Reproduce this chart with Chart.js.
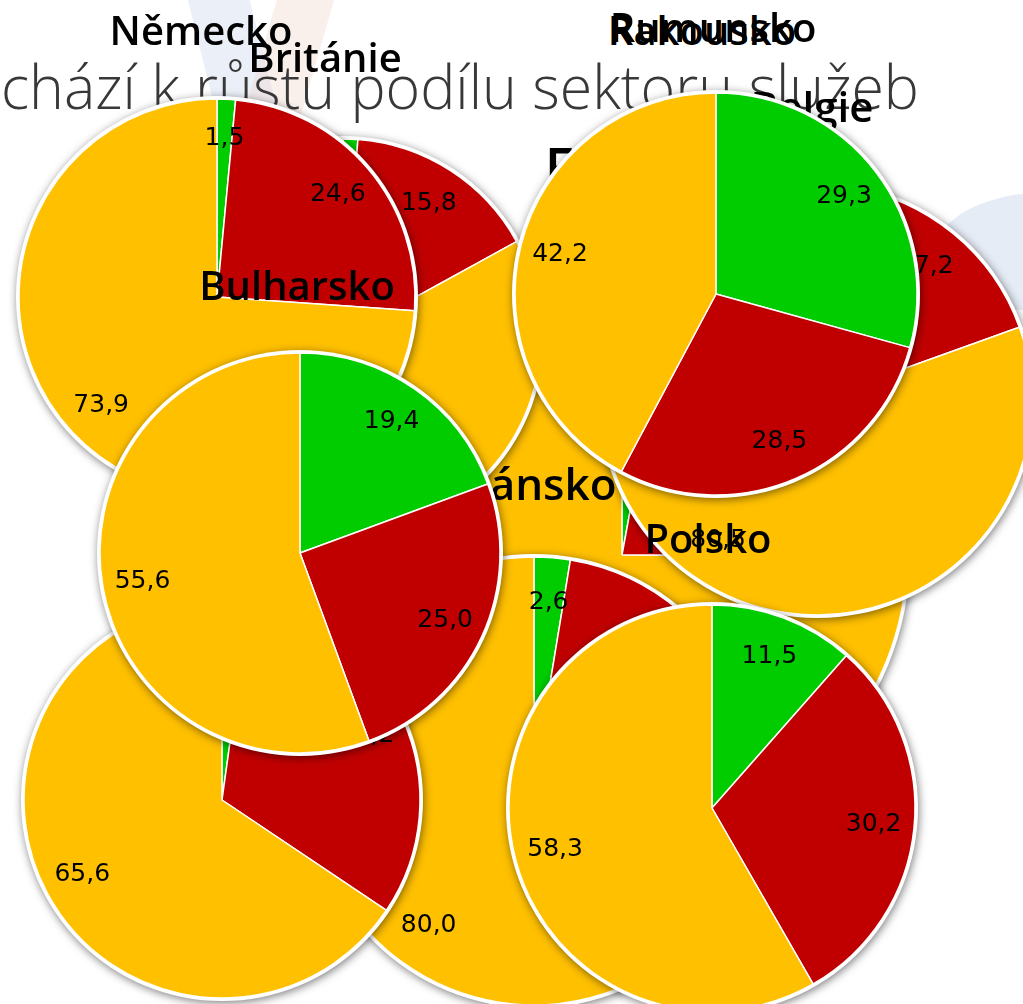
<!DOCTYPE html>
<html lang="cs">
<head>
<meta charset="utf-8">
<title>Podíl sektorů na zaměstnanosti</title>
<script src="https://cdn.jsdelivr.net/npm/chart.js@4.4.1/dist/chart.umd.min.js"></script>
<style>
    html, body { margin: 0; padding: 0; background: #fff; }
    body { position: relative; width: 1023px; height: 1004px; overflow: hidden; }
    #podnadpis {
        position: absolute; left: 1px; top: 56px;
        font: 300 60px "Open Sans", "Lato", sans-serif; line-height: 1;
        color: #383838; white-space: nowrap; transform-origin: 0 0;
    }
    .nazev {
        position: absolute; font: 600 40px "Open Sans", sans-serif; line-height: 1;
        color: #000; white-space: nowrap; transform: translate(-50%, -50%);
    }
    .ozdoba { position: absolute; }
    #platno canvas { position: absolute; left: 0; top: 0; }
</style>
</head>
<body>
<div class="ozdoba" style="left:200px;top:-40px;width:60px;height:170px;background:rgba(205,215,238,0.4);transform:rotate(-14deg);"></div>
<div class="ozdoba" style="left:265px;top:-40px;width:55px;height:170px;background:rgba(240,215,205,0.4);transform:rotate(16deg);"></div>
<div class="ozdoba" style="left:935px;top:192px;width:230px;height:120px;border-radius:50%;background:rgba(220,228,242,0.7);"></div>
<div class="ozdoba" style="left:985px;top:330px;width:90px;height:150px;border-radius:50%;background:rgba(250,228,220,0.5);"></div>
<div id="podnadpis">chází k růstu podílu sektoru služeb</div>
<div class="nazev" style="left:702px;top:30px;">Rakousko</div>
<div id="platno"></div>
<script>
// podíl zaměstnanosti podle sektorů (%), pořadí = pořadí vrstev odspodu
const zeme = ['Francie', 'Belgie', 'Británie', 'Německo', 'Rumunsko', 'Dánsko', 'Maďarsko', 'Polsko', 'Bulharsko'];
const zemedelstvi = [2.9, 2.3, 1.2, 1.5, 29.3, 2.6, 2.2, 11.5, 19.4];
const prumysl = [22.2, 17.2, 15.8, 24.6, 28.5, 17.4, 32.2, 30.2, 25.0];
const sluzby = [74.9, 80.5, 83.0, 73.9, 42.2, 80.0, 65.6, 58.3, 55.6];
const sektory = ['zemědělství', 'průmysl', 'služby'];

const barvy = ['#00cc00', '#c00000', '#ffc000'];
const SIRKA = 1023;
const VYSKA = 1004;

// rozmístění grafů na snímku: střed, poloměr, nadpis
const poloha = [
    { x: 622, y: 555, r: 285, tx: 640, ty: 172, pismo: 54 },
    { x: 817, y: 400, r: 215, tx: 812, ty: 110, pismo: 42 },
    { x: 343, y: 337, r: 198, tx: 325, ty: 61, pismo: 40 },
    { x: 217, y: 297, r: 198, tx: 201, ty: 34, pismo: 40 },
    { x: 716, y: 294, r: 201, tx: 713, ty: 31, pismo: 40 },
    { x: 534, y: 781, r: 224, tx: 537, ty: 487, pismo: 44 },
    { x: 222, y: 800, r: 198, tx: 215, ty: 540, pismo: 40 },
    { x: 712, y: 808, r: 203, tx: 708, ty: 542, pismo: 40 },
    { x: 300, y: 553, r: 200, tx: 297, ty: 289, pismo: 40 }
];

const stin = {
    id: 'stin',
    beforeDatasetsDraw(chart) {
        const arc = chart.getDatasetMeta(0).data[0];
        const ctx = chart.ctx;
        ctx.save();
        ctx.beginPath();
        ctx.arc(arc.x, arc.y, arc.outerRadius + 3, 0, Math.PI * 2);
        ctx.fillStyle = '#fff';
        ctx.shadowColor = 'rgba(0,0,0,0.5)';
        ctx.shadowBlur = 8;
        ctx.shadowOffsetX = 1;
        ctx.shadowOffsetY = 2;
        ctx.fill();
        ctx.restore();
    }
};

const hodnoty = {
    id: 'hodnoty',
    afterDatasetsDraw(chart) {
        const ctx = chart.ctx;
        const data = chart.data.datasets[0].data;
        ctx.save();
        ctx.font = '25px "DejaVu Sans", sans-serif';
        ctx.fillStyle = '#000';
        ctx.textAlign = 'center';
        ctx.textBaseline = 'middle';
        chart.getDatasetMeta(0).data.forEach((arc, i) => {
            const stred = (arc.startAngle + arc.endAngle) / 2;
            const x = arc.x + Math.cos(stred) * arc.outerRadius * 0.8;
            const y = arc.y + Math.sin(stred) * arc.outerRadius * 0.8;
            ctx.fillText(data[i].toFixed(1).replace('.', ','), x, y);
        });
        ctx.restore();
    }
};

const nadpis = {
    id: 'nadpis',
    afterDraw(chart, args, opts) {
        const ctx = chart.ctx;
        ctx.save();
        ctx.font = '600 ' + opts.size + 'px "Open Sans", sans-serif';
        ctx.fillStyle = '#000';
        ctx.textAlign = 'center';
        ctx.textBaseline = 'middle';
        ctx.fillText(opts.text, opts.x, opts.y);
        ctx.restore();
    }
};

const platno = document.getElementById('platno');

zeme.forEach((nazev, i) => {
    const p = poloha[i];
    const canvas = document.createElement('canvas');
    canvas.width = SIRKA;
    canvas.height = VYSKA;
    platno.append(canvas);

    const a = Math.min(p.x, SIRKA - p.x);
    const b = Math.min(p.y, VYSKA - p.y);

    new Chart(canvas, {
        type: 'pie',
        data: {
            labels: sektory,
            datasets: [{
                data: [zemedelstvi[i], prumysl[i], sluzby[i]],
                backgroundColor: barvy,
                borderColor: '#fff',
                borderWidth: 1.5,
                radius: p.r,
                hoverOffset: 0
            }]
        },
        options: {
            responsive: false,
            animation: false,
            events: [],
            radius: p.r,
            layout: {
                padding: { left: p.x - a, right: SIRKA - p.x - a, top: p.y - b, bottom: VYSKA - p.y - b }
            },
            plugins: {
                legend: { display: false },
                tooltip: { enabled: false },
                nadpis: { text: nazev, x: p.tx, y: p.ty, size: p.pismo }
            }
        },
        plugins: [stin, hodnoty, nadpis]
    });
});

// podnadpis roztáhnout na šířku jako v předloze
const podnadpis = document.getElementById('podnadpis');
const sirkaTextu = podnadpis.getBoundingClientRect().width;
podnadpis.style.transform = 'scaleX(' + (918 / sirkaTextu) + ')';
</script>
</body>
</html>
